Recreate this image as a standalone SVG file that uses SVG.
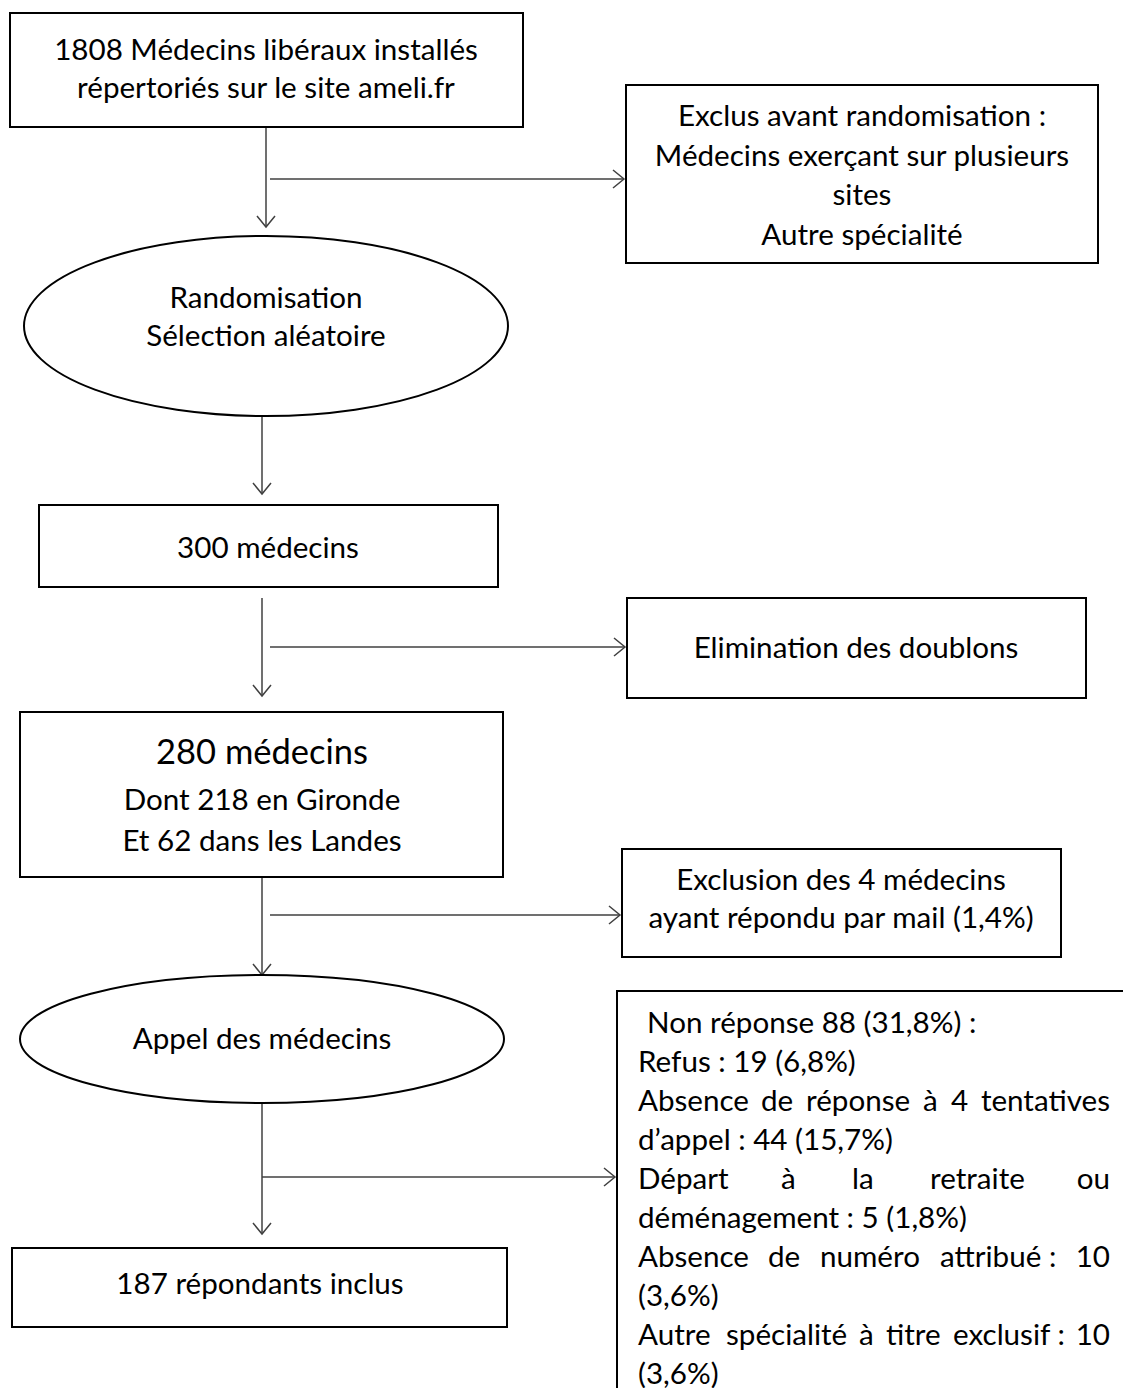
<svg xmlns="http://www.w3.org/2000/svg" width="1123" height="1388" viewBox="0 0 1123 1388">
<style>
.box{fill:#fff;stroke:#000;stroke-width:2}
.t{font-family:Lato,"Liberation Sans",sans-serif;font-size:29.6px;fill:#000}
.c{text-anchor:middle}
.con line{stroke:#404040;stroke-width:1.5;fill:none}
</style>
<defs>
<marker id="ah" markerUnits="userSpaceOnUse" markerWidth="14" markerHeight="22" refX="12" refY="10" orient="auto">
<path d="M1,1 L12,10 L1,19" fill="none" stroke="#404040" stroke-width="1.5"/>
</marker>
</defs>
<rect width="1123" height="1388" fill="#fff"/>

<g id="connectors" class="con">
<line x1="266" y1="127" x2="266" y2="227" marker-end="url(#ah)"/>
<line x1="270" y1="179" x2="624" y2="179" marker-end="url(#ah)"/>
<line x1="262" y1="415" x2="262" y2="494" marker-end="url(#ah)"/>
<line x1="262" y1="598" x2="262" y2="696" marker-end="url(#ah)"/>
<line x1="270" y1="647" x2="625" y2="647" marker-end="url(#ah)"/>
<line x1="262" y1="877" x2="262" y2="975" marker-end="url(#ah)"/>
<line x1="270" y1="915" x2="620" y2="915" marker-end="url(#ah)"/>
<line x1="262" y1="1103" x2="262" y2="1234" marker-end="url(#ah)"/>
<line x1="262" y1="1177" x2="615" y2="1177" marker-end="url(#ah)"/>
</g>

<g id="n1">
<rect class="box" x="10" y="13" width="513" height="114"/>
<text class="t c" x="266" y="60">1808 Médecins libéraux installés</text>
<text class="t c" x="266" y="98">répertoriés sur le site ameli.fr</text>
</g>

<g id="n2">
<rect class="box" x="626" y="85" width="472" height="178"/>
<text class="t c" x="862" y="126">Exclus avant randomisation :</text>
<text class="t c" x="862" y="166">Médecins exerçant sur plusieurs</text>
<text class="t c" x="862" y="205">sites</text>
<text class="t c" x="862" y="245">Autre spécialité</text>
</g>

<g id="n3">
<ellipse class="box" cx="266" cy="326" rx="242" ry="90"/>
<text class="t c" x="266" y="308">Randomisation</text>
<text class="t c" x="266" y="346">Sélection aléatoire</text>
</g>

<g id="n4">
<rect class="box" x="39" y="505" width="459" height="82"/>
<text class="t c" x="268" y="558">300 médecins</text>
</g>

<g id="n5">
<rect class="box" x="627" y="598" width="459" height="100"/>
<text class="t c" x="856" y="658">Elimination des doublons</text>
</g>

<g id="n6">
<rect class="box" x="20" y="712" width="483" height="165"/>
<text class="t c" x="262" y="764" style="font-size:34.5px">280 médecins</text>
<text class="t c" x="262" y="810">Dont 218 en Gironde</text>
<text class="t c" x="262" y="851">Et 62 dans les Landes</text>
</g>

<g id="n7">
<rect class="box" x="622" y="849" width="439" height="108"/>
<text class="t c" x="841" y="890">Exclusion des 4 médecins</text>
<text class="t c" x="841" y="928">ayant répondu par mail (1,4%)</text>
</g>

<g id="n8">
<ellipse class="box" cx="262" cy="1039" rx="242" ry="64"/>
<text class="t c" x="262" y="1049">Appel des médecins</text>
</g>

<g id="n9">
<rect class="box" x="12" y="1248" width="495" height="79"/>
<text class="t c" x="260" y="1294">187 répondants inclus</text>
</g>

<g id="n10">
<rect class="box" x="617" y="991" width="520" height="420"/>
<text class="t" x="647" y="1033">Non réponse 88 (31,8%) :</text>
<text class="t" x="638" y="1072">Refus : 19 (6,8%)</text>
<text class="t" y="1111"><tspan x="638">Absence</tspan><tspan x="761">de</tspan><tspan x="806">réponse</tspan><tspan x="923">à</tspan><tspan x="951">4</tspan><tspan x="1110" text-anchor="end">tentatives</tspan></text>
<text class="t" x="638" y="1150">d’appel : 44 (15,7%)</text>
<text class="t" y="1189"><tspan x="638">Départ</tspan><tspan x="781">à</tspan><tspan x="852">la</tspan><tspan x="930">retraite</tspan><tspan x="1110" text-anchor="end">ou</tspan></text>
<text class="t" x="638" y="1228">déménagement : 5 (1,8%)</text>
<text class="t" y="1267"><tspan x="638">Absence</tspan><tspan x="768">de</tspan><tspan x="820">numéro</tspan><tspan x="940">attribué :</tspan><tspan x="1110" text-anchor="end">10</tspan></text>
<text class="t" x="638" y="1306">(3,6%)</text>
<text class="t" y="1345"><tspan x="638">Autre</tspan><tspan x="726">spécialité</tspan><tspan x="859">à</tspan><tspan x="886">titre</tspan><tspan x="953">exclusif :</tspan><tspan x="1110" text-anchor="end">10</tspan></text>
<text class="t" x="638" y="1384">(3,6%)</text>
</g>
</svg>
